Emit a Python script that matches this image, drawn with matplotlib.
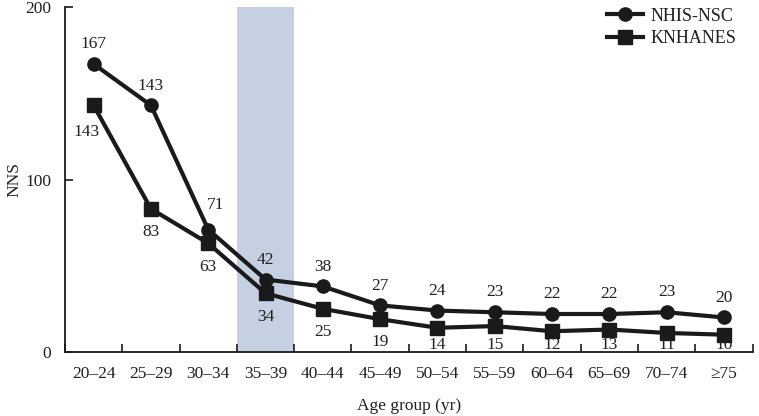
import numpy as np
import matplotlib.pyplot as plt

# data
age_groups = ['20\u201324', '25\u201329', '30\u201334', '35\u201339', '40\u201344', '45\u201349',
              '50\u201354', '55\u201359', '60\u201364', '65\u201369', '70\u201374', '\u226575']
nhis_nsc = [167, 143, 71, 42, 38, 27, 24, 23, 22, 22, 23, 20]
knhanes = [143, 83, 63, 34, 25, 19, 14, 15, 12, 13, 11, 10]
highlight = 3  # 35-39

plt.rcParams['font.family'] = ['Liberation Serif', 'DejaVu Serif']
txt = '#231f20'
ink = '#1a1a1a'

fig = plt.figure(figsize=(7.59, 4.16), dpi=100)
ax = fig.add_axes([0.0856, 0.154, 0.906, 0.829])

x = np.arange(len(age_groups))
ax.axvspan(highlight - 0.5, highlight + 0.5, color='#c5d1e3', zorder=0, lw=0)

ax.plot(x, nhis_nsc, color=ink, lw=3, marker='o', ms=9.5, label='NHIS-NSC', zorder=3)
ax.plot(x, knhanes, color=ink, lw=3, marker='s', ms=9.5, label='KNHANES', zorder=3)

# value labels
for i, v in enumerate(nhis_nsc):
    dx, dy = 0, 11.5
    if i == 2:
        dx, dy = 0.12, 14
    ax.text(i + dx, v + dy, str(v), ha='center', va='center', fontsize=12.5, color=txt)
for i, v in enumerate(knhanes):
    dx, dy = 0, -13.5
    if i == 0:
        dx, dy = -0.12, -15.5
    ax.text(i + dx, max(v + dy, 3.8), str(v), ha='center', va='center', fontsize=12.5, color=txt)

ax.set_xlim(-0.5, len(age_groups) - 0.5)
ax.set_ylim(0, 200)
ax.set_yticks([0, 100, 200])
ax.set_xticks(np.arange(len(age_groups) + 1) - 0.5)
ax.set_xticklabels([])
ax.set_xticks(x, minor=True)
ax.set_xticklabels(age_groups, minor=True)
ax.tick_params(axis='x', which='major', direction='in', length=6, width=1.2, color=ink)
ax.tick_params(axis='x', which='minor', length=0, pad=10, labelsize=12.5, labelcolor=txt)
ax.tick_params(axis='y', direction='in', length=6, width=1.2, color=ink, pad=10,
               labelsize=12.5, labelcolor=txt)

for s in ['top', 'right']:
    ax.spines[s].set_visible(False)
for s in ['left', 'bottom']:
    ax.spines[s].set_linewidth(1.3)
    ax.spines[s].set_color(ink)

ax.set_xlabel('Age group (yr)', fontsize=12.5, color=txt, labelpad=12)
ax.set_ylabel('NNS', fontsize=12.5, color=txt, labelpad=2)

ax.legend(loc='upper right', bbox_to_anchor=(1.0, 1.045), frameon=False, fontsize=13,
          handlelength=2.0, handletextpad=0.4, labelspacing=0.3, labelcolor=txt)

fig.savefig('out.png', dpi=100)
